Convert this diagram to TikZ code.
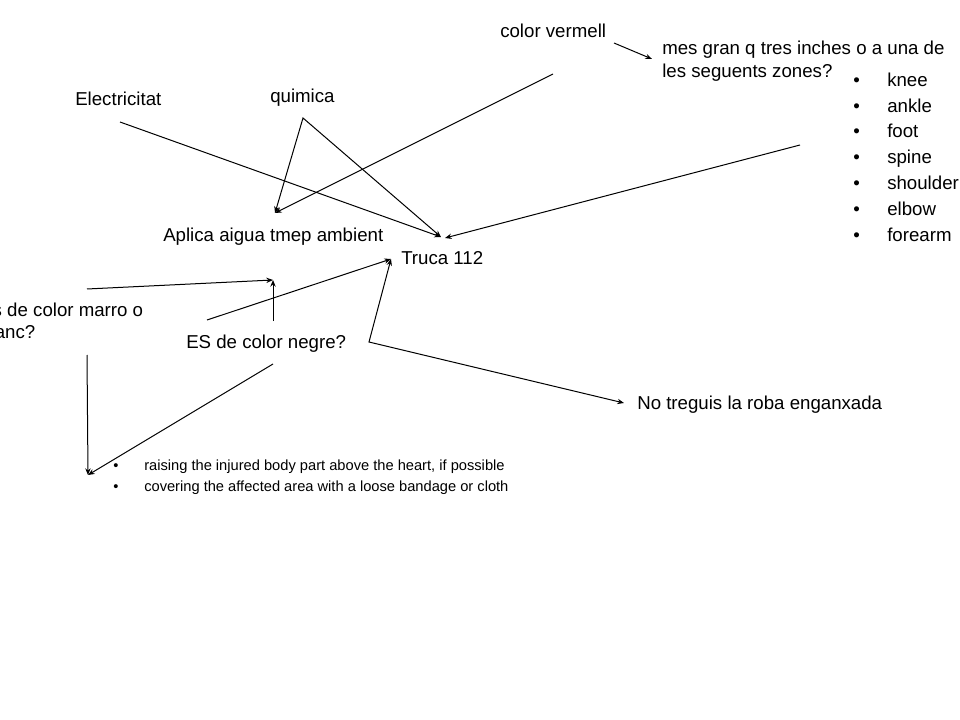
\documentclass[tikz,border=0pt]{standalone}
\usepackage{fontspec}
\setmainfont{Liberation Sans}
\usetikzlibrary{arrows.meta}
\begin{document}
\begin{tikzpicture}[x=0.75pt,y=-0.75pt,
  lbl/.style={anchor=base west,inner sep=0pt,font=\fontsize{14pt}{17.25pt}\selectfont},
  small/.style={anchor=base west,inner sep=0pt,font=\fontsize{11pt}{13pt}\selectfont},
  conn/.style={line width=0.75pt,-{Stealth[length=5pt,width=4pt]}},
  conn2/.style={line width=0.75pt,{Stealth[length=5pt,width=4pt]}-{Stealth[length=5pt,width=4pt]}}]
\useasboundingbox (0,0) rectangle (960,720);
\clip (0,0) rectangle (960,720);
% texts
\node[lbl] (vermell) at (500,38) {color vermell};
\node[lbl] (mes1) at (662,55) {mes gran q tres inches o a una de};
\node[lbl] (mes2) at (662,78) {les seguents zones?};
\foreach \t/\yy [count=\i] in {knee/87,ankle/113,foot/138,spine/164,shoulder/190,elbow/216,forearm/242}{
  \node[lbl] (b\i) at (853,\yy) {•};
  \node[lbl] (z\i) at (887,\yy) {\t};
}
\node[lbl] (elec) at (75,106) {Electricitat};
\node[lbl] (quim) at (270,103) {quimica};
\node[lbl] (aplica) at (163,242) {Aplica aigua tmep ambient};
\node[lbl] (truca) at (401,265) {Truca 112};
\node[lbl] (marro1) at (-20,316) {Es de color marro o};
\node[lbl] (marro2) at (-20,339) {blanc?};
\node[lbl] (negre) at (186,348) {ES de color negre?};
\node[lbl] (notreg) at (637,409) {No treguis la roba enganxada};
\node[small] (sb1) at (113,470) {•};
\node[small] (s1) at (144,470) {raising the injured body part above the heart, if possible};
\node[small] (sb2) at (113,491) {•};
\node[small] (s2) at (144,491) {covering the affected area with a loose bandage or cloth};
% connector end points
\coordinate (vA) at (614,43);
\coordinate (vB) at (652,59);
\coordinate (rA) at (553,74);
\coordinate (apT) at (275,213);
\coordinate (qA) at (303,118);
\coordinate (trT) at (441,237);
\coordinate (trT2) at (445,238);
\coordinate (eA) at (120,122);
\coordinate (zA) at (800,145);
\coordinate (mA) at (87,289);
\coordinate (apB) at (273,280);
\coordinate (nA) at (273,321);
\coordinate (nB) at (207,320);
\coordinate (trL) at (391,259);
\coordinate (nC) at (369,342);
\coordinate (ntL) at (624,403);
\coordinate (mB) at (87,355);
\coordinate (sbT) at (88,475);
\coordinate (nD) at (273,364);
% connectors
\draw[conn] (vA) -- (vB);
\draw[conn] (rA) -- (apT);
\draw[conn2] (apT) -- (qA) -- (trT);
\draw[conn] (eA) -- (trT);
\draw[conn] (zA) -- (trT2);
\draw[conn] (mA) -- (apB);
\draw[conn] (nA) -- (apB);
\draw[conn] (nB) -- (trL);
\draw[conn2] (trL) -- (nC) -- (ntL);
\draw[conn] (mB) -- (sbT);
\draw[conn] (nD) -- (sbT);
\end{tikzpicture}
\end{document}
